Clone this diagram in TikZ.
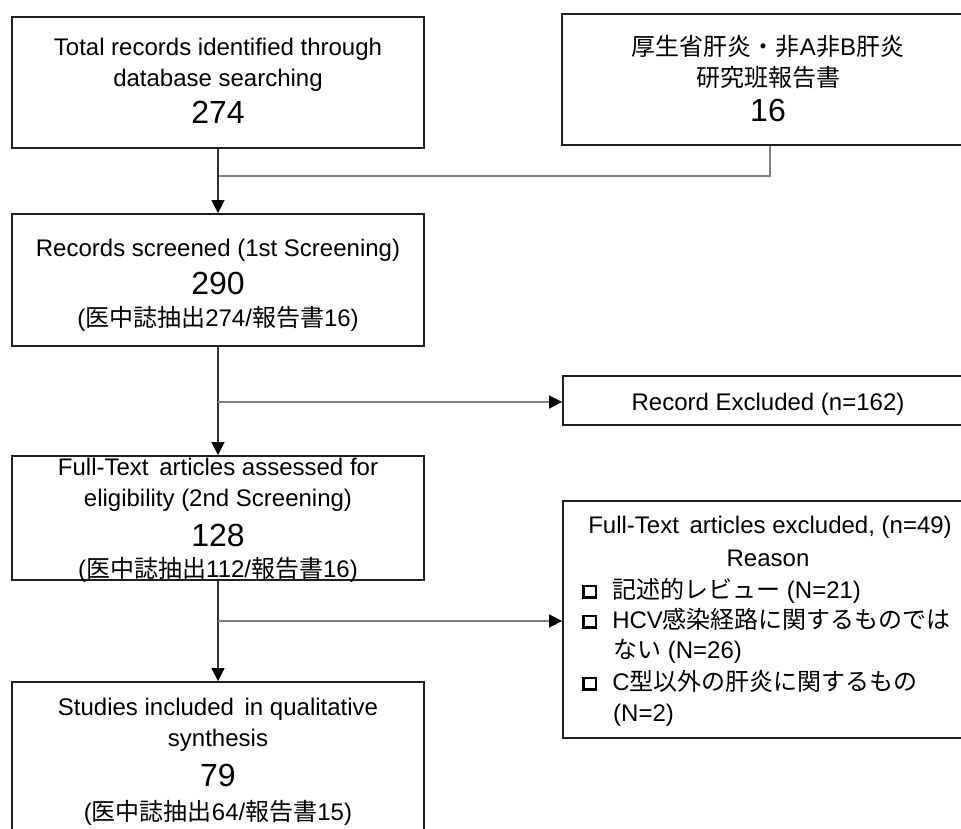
\documentclass[tikz,border=0pt]{standalone}
\usepackage{fontspec}
\setmainfont{Liberation Sans}
\newfontfamily\cjk{Noto Sans CJK JP}
\usetikzlibrary{arrows.meta}
\newcommand\jp[1]{{\cjk #1}}
\newcommand\sqb{\raisebox{2.8pt}{\setlength{\fboxrule}{2.8pt}\setlength{\fboxsep}{0pt}\fbox{\rule{0pt}{8.5pt}\hspace{9.5pt}}}}
\tikzset{
  box/.style={draw=black!88, line width=1.8pt, rectangle, inner sep=0pt},
  txt/.style={anchor=base, inner sep=0pt, font=\fontsize{24}{29}\selectfont},
  txtw/.style={anchor=base west, inner sep=0pt, font=\fontsize{24}{29}\selectfont},
  num/.style={anchor=base, inner sep=0pt, font=\fontsize{32}{38}\selectfont},
  vline/.style={draw=black!80, line width=1.3pt},
  hline/.style={draw=black!50, line width=1.5pt},
  arr/.style={-{Triangle[width=13pt,length=13pt,black]}}
}
\begin{document}
\begin{tikzpicture}[x=1pt,y=-1pt]
\useasboundingbox (0,0) rectangle (961,828);
\clip (0,0) rectangle (961,828);
% boxes
\node[box, minimum width=412pt, minimum height=131pt] (b1) at (218,82.5) {};
\node[box, minimum width=416pt, minimum height=131pt] (b2) at (770,79.5) {};
\node[box, minimum width=412pt, minimum height=132pt] (b3) at (218,280) {};
\node[box, minimum width=416pt, minimum height=49pt] (rex) at (771,400.5) {};
\node[box, minimum width=416pt, minimum height=237pt] (exc) at (771,619.5) {};
\node[box, minimum width=412pt, minimum height=124pt] (b5) at (218,518) {};
\node[box, minimum width=412pt, minimum height=168pt] (b7) at (218,766) {};
% box 1
\node[txt] (t1a) at (218,55.6) {Total records identified through};
\node[txt] (t1b) at (218,86.6) {database searching};
\node[num] (t1c) at (218,123.5) {274};
% box 2
\node[txt] (t2a) at (768,55.6) {\jp{厚生省肝炎・非}A\jp{非}B\jp{肝炎}};
\node[txt] (t2b) at (768,86.6) {\jp{研究班報告書}};
\node[num] (t2c) at (768,121.5) {16};
% box 3
\node[txt] (t3a) at (218,256.6) {Records screened (1st Screening)};
\node[num] (t3b) at (218,294.5) {290};
\node[txt] (t3c) at (218,326.6) {(\jp{医中誌抽出}274/\jp{報告書}16)};
% record excluded
\node[txt] (trex) at (768,410.6) {Record Excluded (n=162)};
% box 5
\node[txt] (t5a) at (218,475.6) {Full-Text\, articles assessed for};
\node[txt] (t5b) at (218,506.6) {eligibility (2nd Screening)};
\node[num] (t5c) at (218,546.5) {128};
\node[txt] (t5d) at (218,577.6) {(\jp{医中誌抽出}112/\jp{報告書}16)};
% excluded box
\node[txt] (e1) at (770,533.6) {Full-Text\, articles excluded, (n=49)};
\node[txt] (e2) at (768,566.6) {Reason};
\node[txtw] (e3) at (582,598.6) {\sqb\hspace{15pt}\jp{記述的レビュー} (N=21)};
\node[txtw] (e4) at (582,628.6) {\sqb\hspace{15pt}HCV\jp{感染経路に関するものでは}};
\node[txtw] (e5) at (613,658.6) {\jp{ない} (N=26)};
\node[txtw] (e6) at (582,690.6) {\sqb\hspace{15pt}C\jp{型以外の肝炎に関するもの}};
\node[txtw] (e7) at (613,721.6) {(N=2)};
% box 7
\node[txt] (t7a) at (218,715.6) {Studies included\, in qualitative};
\node[txt] (t7b) at (218,746.6) {synthesis};
\node[num] (t7c) at (218,786.5) {79};
\node[txt] (t7d) at (218,820.6) {(\jp{医中誌抽出}64/\jp{報告書}15)};
% connectors
\coordinate (j1) at (218,176);
\coordinate (j2) at (218,402);
\coordinate (j3) at (218,621);
\draw[hline] (b2.south) |- (j1);
\draw[vline,arr] (b1.south) -- (b3.north);
\draw[vline,arr] (b3.south) -- (b5.north);
\draw[vline,arr] (b5.south) -- (b7.north);
\draw[hline,arr] (j2) -- (j2 -| rex.west);
\draw[hline,arr] (j3) -- (j3 -| exc.west);
\end{tikzpicture}
\end{document}
